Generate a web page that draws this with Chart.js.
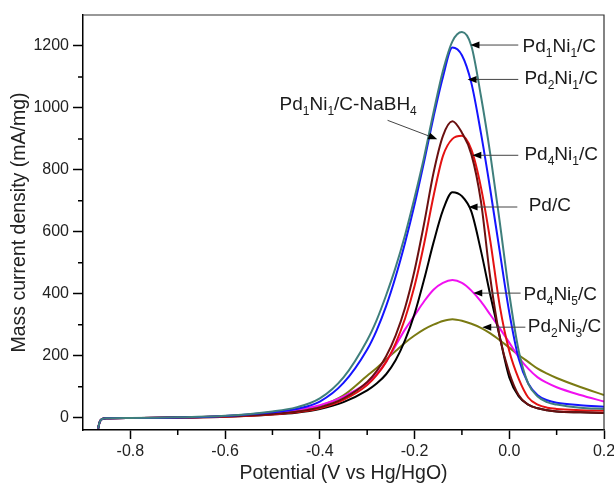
<!DOCTYPE html>
<html>
<head>
<meta charset="utf-8">
<script src="https://cdn.jsdelivr.net/npm/chart.js@4.4.1/dist/chart.umd.min.js"></script>
<style>
html,body{margin:0;padding:0;background:#fff;}
</style>
</head>
<body>
<canvas id="cv" width="614" height="484"></canvas>
<script>
// potential (V vs Hg/HgO) shared by all curves
const potential = [-0.868,-0.865,-0.86,-0.85,-0.8,-0.7,-0.6,-0.5,-0.45,-0.4,-0.35,-0.3,-0.28,-0.26,-0.24,-0.22,-0.2,-0.18,-0.16,-0.14,-0.12,-0.1,-0.08,-0.06,-0.04,-0.02,0,0.02,0.04,0.06,0.08,0.1,0.15,0.2];

// mass current density (mA/mg)
const pd1ni1 = [-35,-15,-5,-2,-1,1,6,20,33,62,130,250,315,395,485,590,710,840,985,1120,1215,1245,1200,1040,850,630,400,215,110,68,50,42,32,28];
const pd2ni1 = [-35,-15,-5,-2,-1,0,5,17,28,52,112,220,282,360,455,565,688,825,970,1100,1195,1170,1080,920,735,535,340,190,110,72,56,48,40,35];
const pd1ni1NaBH4 = [-35,-15,-5,-2,-1,0,4,12,19,33,62,115,150,198,265,355,475,625,790,910,957,920,850,700,450,260,145,72,42,30,24,20,17,15];
const pd4ni1 = [-35,-15,-5,-2,-1,0,3,10,17,30,57,105,137,180,240,320,425,560,715,845,900,910,865,745,570,360,215,125,65,42,32,28,24,22];
const pdC = [-35,-15,-5,-2,-1,0,3,10,16,28,50,88,110,140,185,250,335,445,565,670,728,715,665,540,395,260,130,68,42,30,24,20,17,15];
const pd4ni5 = [-35,-15,-5,-2,-1,0,5,15,25,40,68,112,140,180,232,285,330,375,413,435,444,435,410,375,332,288,242,195,158,130,112,98,73,52];
const pd2ni3 = [-35,-15,-5,-2,-1,0,5,14,23,38,72,135,160,188,215,242,265,285,300,312,318,313,303,290,272,250,226,202,180,158,142,128,99,73];

const xMinor = [-0.7,-0.5,-0.3,-0.1,0.1];
const yMinor = [100,300,500,700,900,1100];

const FONT = '"Liberation Sans", Arial, sans-serif';

function series(arr, color){
    return {
        data: potential.map((x,i) => ({x: x, y: arr[i]})),
        borderColor: color,
        borderWidth: 2,
        pointRadius: 0,
        fill: false,
        cubicInterpolationMode: 'monotone'
    };
}

// curve labels with arrows, given in data units
const notes = [
    {parts:[['Pd',0],['1',1],['Ni',0],['1',1],['/C',0]], at:[0.028,1203], from:[0.019,1203], to:[-0.082,1203]},
    {parts:[['Pd',0],['2',1],['Ni',0],['1',1],['/C',0]], at:[0.032,1099], from:[0.019,1092], to:[-0.088,1092]},
    {parts:[['Pd',0],['1',1],['Ni',0],['1',1],['/C-NaBH',0],['4',1]], at:[-0.485,1015], from:[-0.257,960], to:[-0.152,899]},
    {parts:[['Pd',0],['4',1],['Ni',0],['1',1],['/C',0]], at:[0.032,854], from:[0.019,847], to:[-0.078,847]},
    {parts:[['Pd/C',0]], at:[0.041,690], from:[0.017,680], to:[-0.086,680]},
    {parts:[['Pd',0],['4',1],['Ni',0],['5',1],['/C',0]], at:[0.030,402], from:[0.024,402], to:[-0.076,402]},
    {parts:[['Pd',0],['2',1],['Ni',0],['3',1],['/C',0]], at:[0.039,299], from:[0.034,292], to:[-0.057,292]}
];

const extras = {
    id: 'extras',
    afterDraw(chart){
        const ctx = chart.ctx, a = chart.chartArea, x = chart.scales.x, y = chart.scales.y;
        ctx.save();
        // frame top/right
        ctx.strokeStyle = '#333';
        ctx.lineWidth = 1.2;
        ctx.beginPath();
        ctx.moveTo(a.left, a.top); ctx.lineTo(a.right, a.top); ctx.lineTo(a.right, a.bottom);
        ctx.stroke();
        // minor ticks
        ctx.strokeStyle = '#000';
        ctx.lineWidth = 1.5;
        ctx.beginPath();
        xMinor.forEach(v => { const p = x.getPixelForValue(v); ctx.moveTo(p, a.bottom); ctx.lineTo(p, a.bottom + 5); });
        yMinor.forEach(v => { const p = y.getPixelForValue(v); ctx.moveTo(a.left, p); ctx.lineTo(a.left - 5, p); });
        ctx.stroke();

        // labels + arrows
        notes.forEach(n => {
            const x1 = x.getPixelForValue(n.from[0]), y1 = y.getPixelForValue(n.from[1]);
            const x2 = x.getPixelForValue(n.to[0]), y2 = y.getPixelForValue(n.to[1]);
            const ang = Math.atan2(y2 - y1, x2 - x1);
            ctx.strokeStyle = '#444';
            ctx.lineWidth = 1;
            ctx.beginPath(); ctx.moveTo(x1, y1); ctx.lineTo(x2 - 6*Math.cos(ang), y2 - 6*Math.sin(ang)); ctx.stroke();
            ctx.fillStyle = '#000';
            ctx.beginPath();
            ctx.moveTo(x2, y2);
            ctx.lineTo(x2 - 9*Math.cos(ang) + 3.5*Math.sin(ang), y2 - 9*Math.sin(ang) - 3.5*Math.cos(ang));
            ctx.lineTo(x2 - 9*Math.cos(ang) - 3.5*Math.sin(ang), y2 - 9*Math.sin(ang) + 3.5*Math.cos(ang));
            ctx.closePath(); ctx.fill();

            let tx = x.getPixelForValue(n.at[0]);
            const base = y.getPixelForValue(n.at[1]) + 7;
            ctx.fillStyle = '#1a1a1a';
            ctx.textBaseline = 'alphabetic';
            ctx.textAlign = 'left';
            n.parts.forEach(p => {
                ctx.font = (p[1] ? '12px ' : '19px ') + FONT;
                ctx.fillText(p[0], tx, p[1] ? base + 5 : base);
                tx += ctx.measureText(p[0]).width;
            });
        });
        ctx.restore();
    }
};

const chart = new Chart(document.getElementById('cv').getContext('2d'), {
    type: 'line',
    data: {
        datasets: [
            series(pd1ni1, '#3f7f7c'),
            series(pd2ni1, '#1414ff'),
            series(pd1ni1NaBH4, '#6a1010'),
            series(pd4ni1, '#e41212'),
            series(pdC, '#000000'),
            series(pd4ni5, '#f010f0'),
            series(pd2ni3, '#7a7a12')
        ]
    },
    options: {
        responsive: false,
        animation: false,
        devicePixelRatio: 1,
        layout: {padding: {top: 15, right: 10, left: 0, bottom: 0}},
        plugins: {legend: {display: false}, tooltip: {enabled: false}},
        scales: {
            x: {
                type: 'linear', min: -0.9, max: 0.2,
                ticks: {
                    stepSize: 0.2, includeBounds: false, autoSkip: false, maxRotation: 0,
                    padding: 3, color: '#222', font: {family: FONT, size: 16},
                    callback: v => Math.abs(v) < 1e-9 ? '0.0' : v.toFixed(1)
                },
                grid: {drawOnChartArea: false, drawTicks: true, tickLength: 9, tickColor: '#000', tickWidth: 1.5},
                border: {color: '#000', width: 1.5},
                title: {display: true, text: 'Potential (V vs Hg/HgO)', color: '#222',
                        font: {family: FONT, size: 19.5, lineHeight: 1.1}, padding: {top: 0, bottom: 0}},
                afterFit: s => { s.height = 54; s.paddingLeft = 0; s.paddingRight = 0; }
            },
            y: {
                min: -40, max: 1300,
                ticks: {
                    stepSize: 200, includeBounds: false, padding: 4,
                    color: '#222', font: {family: FONT, size: 16},
                    callback: v => String(Math.round(v))
                },
                grid: {drawOnChartArea: false, drawTicks: true, tickLength: 10, tickColor: '#000', tickWidth: 1.5},
                border: {color: '#000', width: 1.5},
                title: {display: true, text: 'Mass current density (mA/mg)', color: '#222',
                        font: {family: FONT, size: 19.5, lineHeight: 1.1}, padding: {top: 9, bottom: 0}},
                afterFit: s => { s.width = 83; s.paddingTop = 0; s.paddingBottom = 0; }
            }
        }
    },
    plugins: [extras]
});
</script>
</body>
</html>
